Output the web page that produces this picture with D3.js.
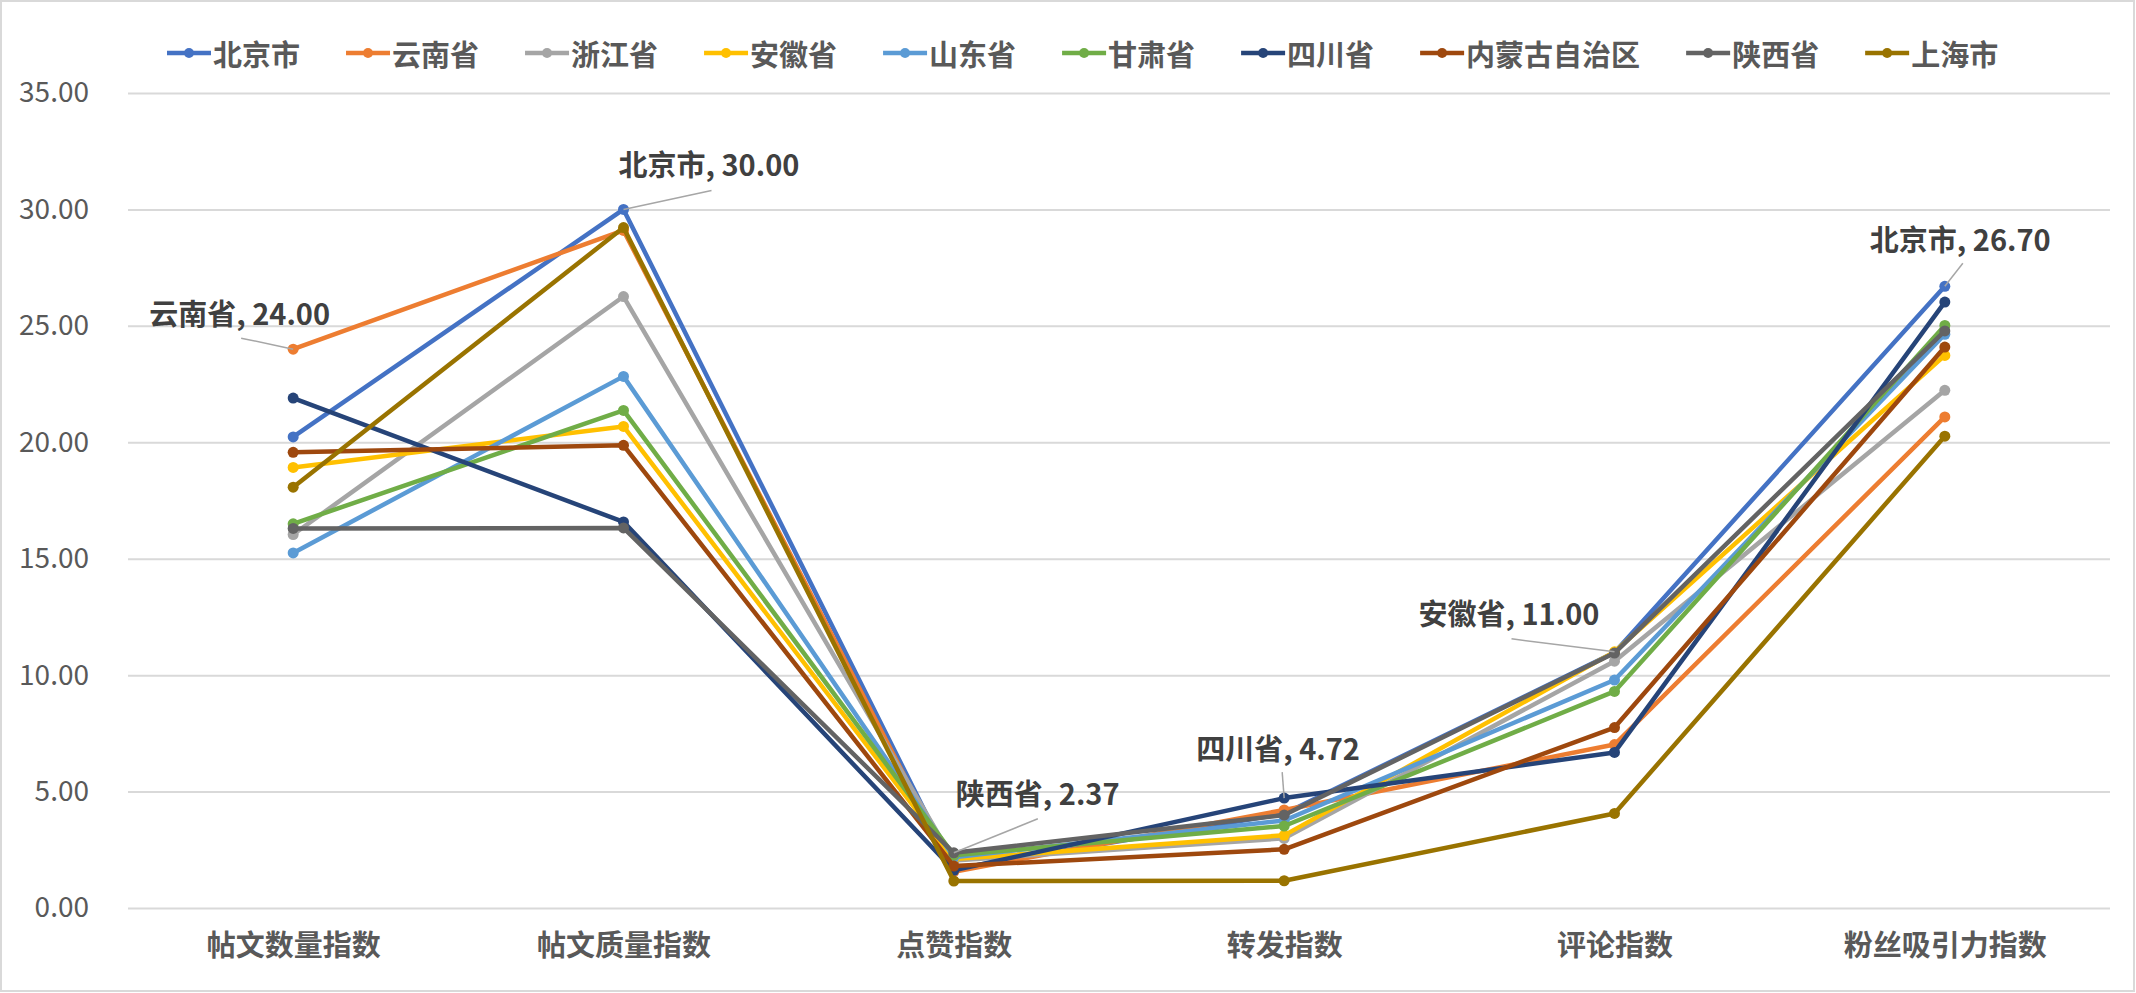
<!DOCTYPE html>
<html>
<head>
<meta charset="utf-8">
<script src="https://cdn.jsdelivr.net/npm/d3@7"></script>
<style>
  html, body { margin: 0; padding: 0; background: #fff; }
  svg { display: block; font-family: "Noto Sans CJK SC", "Noto Sans", sans-serif; }
</style>
</head>
<body>
<div id="chart"></div>
<script>
// categorie sull'asse x
var categories = ["帖文数量指数", "帖文质量指数", "点赞指数", "转发指数", "评论指数", "粉丝吸引力指数"];

var seriesNames = ["北京市", "云南省", "浙江省", "安徽省", "山东省", "甘肃省", "四川省", "内蒙古自治区", "陕西省", "上海市"];

var seriesColors = ["#4472C4", "#ED7D31", "#A5A5A5", "#FFC000", "#5B9BD5", "#70AD47", "#264478", "#9E480E", "#636363", "#997300"];

// valori
var beijing   = [20.23, 30.00, 1.68, 4.05, 10.97, 26.70];
var yunnan    = [24.00, 29.10, 1.56, 4.21, 7.02, 21.09];
var zhejiang  = [16.04, 26.26, 2.04, 2.99, 10.60, 22.23];
var anhui     = [18.92, 20.68, 2.10, 3.12, 11.00, 23.73];
var shandong  = [15.25, 22.83, 2.18, 3.76, 9.79, 24.64];
var gansu     = [16.50, 21.37, 2.27, 3.52, 9.30, 25.02];
var sichuan   = [21.90, 16.58, 1.62, 4.72, 6.68, 26.02];
var neimenggu = [19.57, 19.87, 1.80, 2.52, 7.75, 24.09];
var shaanxi   = [16.30, 16.32, 2.37, 3.99, 10.95, 24.78];
var shanghai  = [18.07, 29.22, 1.16, 1.17, 4.06, 20.26];

var yTicks = [0, 5, 10, 15, 20, 25, 30, 35];

// etichette dati: [serie, categoria]
var labelSeries = [1, 0, 8, 6, 3, 0];
var labelCats   = [0, 1, 2, 3, 4, 5];

var seriesValues = [beijing, yunnan, zhejiang, anhui, shandong, gansu, sichuan, neimenggu, shaanxi, shanghai];

var width = 2136,
    height = 993,
    margin = {top: 93, right: 26, bottom: 85, left: 128};

var svg = d3.select("#chart").append("svg")
    .attr("width", width)
    .attr("height", height);

// bordo del grafico
svg.append("rect")
    .attr("x", 1).attr("y", 1)
    .attr("width", width - 3).attr("height", height - 3)
    .attr("fill", "#fff")
    .attr("stroke", "#d9d9d9")
    .attr("stroke-width", 2);

var x = d3.scalePoint()
    .domain(categories)
    .range([margin.left, width - margin.right])
    .padding(0.5);

var y = d3.scaleLinear()
    .domain([0, 35])
    .range([height - margin.bottom, margin.top]);

// griglia + etichette asse y
var yAxis = svg.append("g")
    .attr("transform", "translate(" + margin.left + ",0)")
    .call(d3.axisLeft(y)
        .tickValues(yTicks)
        .tickFormat(d3.format(".2f"))
        .tickSize(-(width - margin.left - margin.right))
        .tickPadding(39));

yAxis.select(".domain").remove();
yAxis.selectAll(".tick line")
    .attr("stroke", "#d9d9d9")
    .attr("stroke-width", 2);
yAxis.selectAll(".tick text")
    .attr("fill", "#595959")
    .style("font-size", "28px")
    .style("font-family", "'Noto Sans CJK SC', sans-serif");

// etichette asse x
var xAxis = svg.append("g")
    .attr("transform", "translate(0," + (height - margin.bottom) + ")")
    .call(d3.axisBottom(x).tickSize(0).tickPadding(32));

xAxis.select(".domain").remove();
xAxis.selectAll(".tick text")
    .attr("fill", "#595959")
    .attr("dy", "0.55em")
    .style("font-size", "29px")
    .style("font-weight", "bold")
    .style("font-family", "'Noto Sans CJK SC', sans-serif");

var line = d3.line()
    .x(function(d, i) { return x(categories[i]); })
    .y(function(d) { return y(d); });

var series = svg.append("g").selectAll("g")
    .data(seriesValues)
    .enter().append("g");

series.append("path")
    .attr("d", line)
    .attr("fill", "none")
    .attr("stroke", function(d, i) { return seriesColors[i]; })
    .attr("stroke-width", 4.5)
    .attr("stroke-linejoin", "round");

series.each(function(vals, si) {
    d3.select(this).selectAll("circle")
        .data(vals)
        .enter().append("circle")
        .attr("cx", function(d, i) { return x(categories[i]); })
        .attr("cy", function(d) { return y(d); })
        .attr("r", 5.5)
        .attr("fill", seriesColors[si]);
});

// etichette dati con linea guida
var labelOffsets = [
    {dx: -144, dy: -37, lx: -52, ly: -11},
    {dx: -5, dy: -46, lx: 88, ly: -19},
    {dx: 2, dy: -61, lx: 84, ly: -34},
    {dx: -88, dy: -51, lx: -2, ly: -26},
    {dx: -196, dy: -40, lx: -103, ly: -13},
    {dx: -75, dy: -48, lx: 18, ly: -23}
];

var labels = svg.append("g");

labelSeries.forEach(function(si, k) {
    var ci = labelCats[k],
        v = seriesValues[si][ci],
        px = x(categories[ci]),
        py = y(v),
        o = labelOffsets[k];

    labels.append("line")
        .attr("x1", px + o.lx).attr("y1", py + o.ly)
        .attr("x2", px).attr("y2", py)
        .attr("stroke", "#a6a6a6")
        .attr("stroke-width", 1.5);

    labels.append("text")
        .attr("x", px + o.dx)
        .attr("y", py + o.dy)
        .attr("dominant-baseline", "central")
        .attr("fill", "#404040")
        .style("font-size", "29px")
        .style("font-weight", "bold")
        .text(seriesNames[si] + ", " + v.toFixed(2));
});

// legenda
var legend = svg.append("g");
var lx = 167;
seriesNames.forEach(function(name, i) {
    var item = legend.append("g").attr("transform", "translate(" + lx + ",53)");
    item.append("line")
        .attr("x1", 0).attr("x2", 44)
        .attr("stroke", seriesColors[i])
        .attr("stroke-width", 4.5);
    item.append("circle")
        .attr("cx", 22).attr("r", 5)
        .attr("fill", seriesColors[i]);
    var t = item.append("text")
        .attr("x", 46)
        .attr("dominant-baseline", "central")
        .attr("fill", "#595959")
        .style("font-size", "29px")
        .style("font-weight", "bold")
        .text(name);
    lx += 46 + t.node().getComputedTextLength() + 46;
});
</script>
</body>
</html>
